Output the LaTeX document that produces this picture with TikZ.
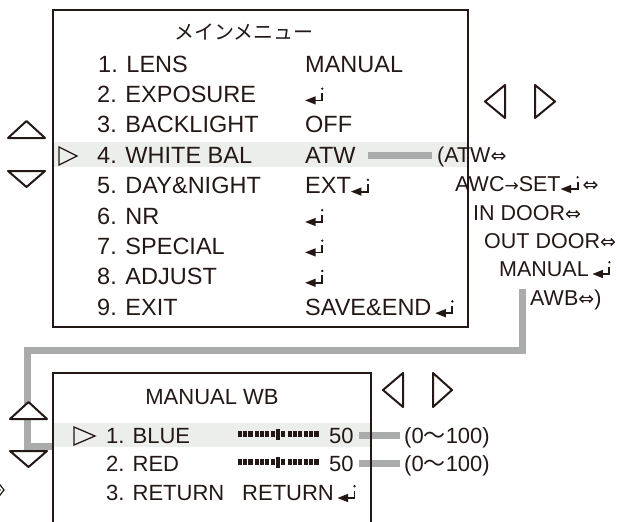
\documentclass[tikz,border=0pt]{standalone}
\usepackage{fontspec}
\setmainfont{Liberation Sans}
\newfontfamily\cjk{Noto Sans CJK JP}
\newfontfamily\symfont{DejaVu Sans}
\usetikzlibrary{positioning}

\definecolor{ink}{RGB}{35,24,21}
\definecolor{bargray}{RGB}{170,172,171}
\definecolor{selband}{RGB}{236,238,235}

% small glyphs used inside the menu texts
\newcommand{\retmark}{\tikz[baseline=0pt,x=1pt,y=1pt]{\fill (0,2) -- (10.5,6.2) -- (10.5,-2.2) -- cycle; \draw[line width=1.8pt] (9,2) -- (17,2) -- (17,9.5); \fill (17,13.8) circle (1.3pt);}}
\newcommand{\swapmark}{{\symfont\fontsize{19}{19}\selectfont ⇔}}
\newcommand{\thenmark}{{\symfont\fontsize{17}{17}\selectfont →}}
\newcommand{\rangemark}{{\cjk 〜}}

\tikzset{
  slider/.pic={
    \foreach \g in {0,1,3,4}
      \foreach \b in {0,1,2}
        \fill[ink] (\g*16.5+\b*5.2,-2.7) rectangle ++(4.2,5.4);
    \fill[ink] (33,-2.7) rectangle ++(4.2,5.4);
    \fill[ink] (38.3,-5.5) rectangle ++(3.2,11);
    \fill[ink] (42.6,-2.7) rectangle ++(4.2,5.4);
  }
}

\begin{document}
\begin{tikzpicture}[
    x=1pt, y=-1pt,
    every node/.style={text=ink, inner sep=0pt},
    item/.style={anchor=base west, font=\fontsize{23.5}{23.5}\selectfont},
    note/.style={anchor=base west, font=\fontsize{22}{22}\selectfont},
    choice/.style={anchor=base west, font=\fontsize{21.5}{21.5}\selectfont},
    menubox/.style={rectangle, draw=ink, line width=1.2pt},
    navmark/.style={draw=ink, fill=white, line width=2pt, line join=round},
    pointer/.style={draw=ink, line width=1.3pt},
    link/.style={draw=bargray, line width=7pt}
]

\useasboundingbox (0,0) rectangle (619,522);

% selected rows
\fill[selband] (53,142) rectangle (468,167);
\fill[selband] (53,423) rectangle (371,447);

% main menu
\node[font=\cjk\fontsize{20}{20}\selectfont] (maintitle) at (244,32) {メインメニュー};
\node[item] (lens) at (98,72) {1. LENS};
\node[item] (expo) at (97,102.4) {2. EXPOSURE};
\node[item] (back) at (97,132.8) {3. BACKLIGHT};
\node[item] (wbal) at (97,163.2) {4. WHITE BAL};
\node[item] (daynight) at (97,193.6) {5. DAY\&NIGHT};
\node[item] (nr) at (97,224) {6. NR};
\node[item] (special) at (97,254.4) {7. SPECIAL};
\node[item] (adjust) at (97,284.8) {8. ADJUST};
\node[item] (exit) at (97,315.2) {9. EXIT};

\node[item] (vlens) at (305,72) {MANUAL};
\node[item] (vexpo) at (305,102.4) {\retmark};
\node[item] (vback) at (305,132.8) {OFF};
\node[item] (vatw) at (305,163.2) {ATW};
\node[item] (vdaynight) at (305,193.6) {EXT\retmark};
\node[item] (vnr) at (305,224) {\retmark};
\node[item] (vspecial) at (305,254.4) {\retmark};
\node[item] (vadjust) at (305,284.8) {\retmark};
\node[item] (vexit) at (305,315.2) {SAVE\&END\,\retmark};

% white balance choices
\node[choice] (atwnote) at (437,162) {(ATW\swapmark};
\node[choice] (awcnote) at (455,191) {AWC\thenmark SET\retmark\,\swapmark};
\node[choice] (indoor) at (473,220) {IN DOOR\swapmark};
\node[choice] (outdoor) at (484,248) {OUT DOOR\swapmark};
\node[choice] (manualnote) at (499,276) {MANUAL\,\retmark};
\node[choice] (awbnote) at (530,305) {AWB\swapmark)};

% manual wb menu
\node[note, anchor=base] (wbtitle) at (212,404) {MANUAL WB};
\node[note] (blue) at (106,443) {1. BLUE};
\node[note] (red) at (106,471) {2. RED};
\node[note] (wbreturn) at (106,500) {3. RETURN};
\pic at (238,434) {slider};
\pic at (238,462) {slider};
\node[note] (vblue) at (329,443) {50};
\node[note] (vred) at (329,471) {50};
\node[note] (vreturn) at (242,500) {RETURN\,\retmark};
\node[note] (bluerange) at (404,443) {(0\rangemark100)};
\node[note] (redrange) at (404,471) {(0\rangemark100)};

% gray links
\coordinate (awbtap) at ([xshift=-8pt]awbnote.north west);
\coordinate (wbturn) at (27,350);
\coordinate (wbentry) at (53,446);
\draw[link, shorten <=12pt, shorten >=5pt] (vatw.east) -- (vatw.east -| atwnote.west);
\draw[link] (awbtap) |- (wbturn) |- (wbentry);
\draw[link, shorten <=5pt, shorten >=4pt] (vblue.east) -- (vblue.east -| bluerange.west);
\draw[link, shorten <=5pt, shorten >=4pt] (vred.east) -- (vred.east -| redrange.west);

% frames
\node[menubox, minimum width=415pt, minimum height=317pt] (mainbox) at (260.5,168.5) {};
\node[menubox, minimum width=318pt, minimum height=180pt] (wbbox) at (212,463) {};

% keys
\draw[navmark] (8,138) -- (26.5,121) -- (45,138) -- cycle;
\draw[navmark] (8,171) -- (45,171) -- (26.5,187) -- cycle;
\draw[navmark] (505,85) -- (485,101.5) -- (505,118) -- cycle;
\draw[navmark] (535,85) -- (555,101.5) -- (535,118) -- cycle;
\draw[pointer] (59,147) -- (77,156) -- (59,165) -- cycle;

\draw[navmark] (10,419) -- (28.5,402) -- (47,419) -- cycle;
\draw[navmark] (10,451) -- (47,451) -- (28.5,467) -- cycle;
\draw[navmark] (403,373) -- (383,390) -- (403,407) -- cycle;
\draw[navmark] (433,373) -- (452,390) -- (433,407) -- cycle;
\draw[pointer] (74,427) -- (95,436) -- (74,445) -- cycle;

\draw[ink, line width=1.2pt] (-3,481) -- (4,490) -- (-3,499);
\draw[ink, line width=1.2pt] (-7,481) -- (0,490) -- (-7,499);

\end{tikzpicture}
\end{document}
